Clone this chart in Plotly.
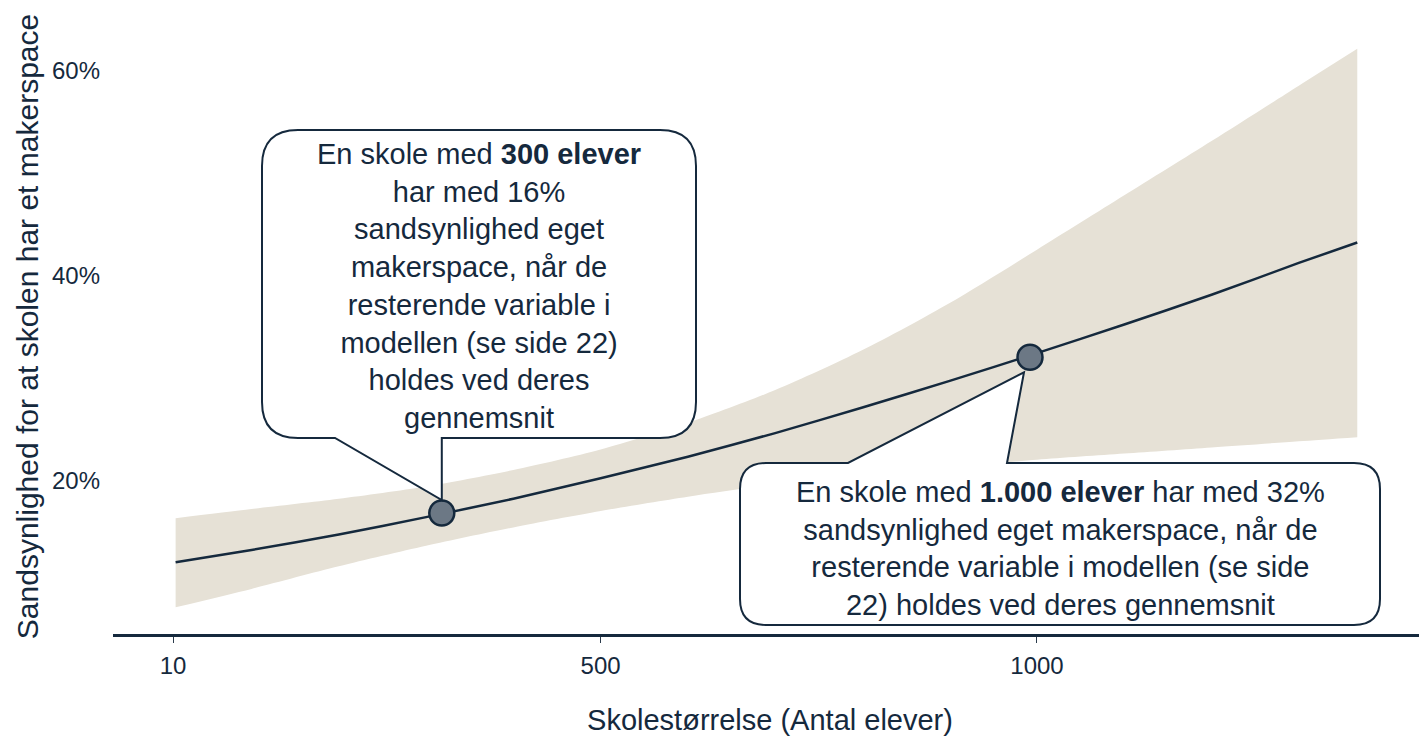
import plotly.graph_objects as go

# school size (number of pupils) and predicted probability with 95% band
school_size = [13, 100, 200, 300, 400, 500, 600, 700, 800, 900, 1000, 1100, 1200, 1300, 1367]
prob = [0.120, 0.132, 0.147, 0.164, 0.182, 0.202, 0.223, 0.246, 0.271, 0.297, 0.324, 0.352, 0.381, 0.412, 0.432]
upper = [0.163, 0.172, 0.182, 0.194, 0.210, 0.230, 0.256, 0.288, 0.327, 0.373, 0.425, 0.478, 0.531, 0.585, 0.621]
lower = [0.076, 0.094, 0.116, 0.136, 0.154, 0.170, 0.184, 0.196, 0.205, 0.213, 0.220, 0.226, 0.232, 0.238, 0.242]

# highlighted points
mark_x = [318, 992]
mark_y = [0.168, 0.320]

x_ticks = [10, 500, 1000]
y_ticks = [0.2, 0.4, 0.6]

NAVY = "#15293d"
BAND = "#e6e1d6"
FONT = "Liberation Sans, Arial, sans-serif"

# page body adds an 8px margin, so the figure is sized/offset for that
OFF = 8
W, H = 1427 - OFF, 736 - OFF
ML, MR, MT, MB = 113 - OFF, 0, 19 - OFF, 102
X_RANGE = [-58.75, 1446.9]
Y_RANGE = [0.05, 0.65]


def to_data(px, py):
    # window pixel -> data coords
    px, py = px - OFF, py - OFF
    x = X_RANGE[0] + (px - ML) / (W - ML - MR) * (X_RANGE[1] - X_RANGE[0])
    y = Y_RANGE[1] - (py - MT) / (H - MT - MB) * (Y_RANGE[1] - Y_RANGE[0])
    return x, y


def to_px(x, y):
    px = ML + (x - X_RANGE[0]) / (X_RANGE[1] - X_RANGE[0]) * (W - ML - MR)
    py = MT + (Y_RANGE[1] - y) / (Y_RANGE[1] - Y_RANGE[0]) * (H - MT - MB)
    return px + OFF, py + OFF


def bubble(x0, y0, x1, y1, r, tail_a, tail_b, tip, tail_side):
    """rounded box (window pixels) with a pointer, returned as a data-coord svg path"""
    pts = [("M", (x0 + r, y0))]
    if tail_side == "top":
        pts += [("L", (tail_a, y0)), ("L", tip), ("L", (tail_b, y0))]
    pts += [("L", (x1 - r, y0)), ("Q", (x1, y0), (x1, y0 + r)),
            ("L", (x1, y1 - r)), ("Q", (x1, y1), (x1 - r, y1))]
    if tail_side == "bottom":
        pts += [("L", (tail_b, y1)), ("L", tip), ("L", (tail_a, y1))]
    pts += [("L", (x0 + r, y1)), ("Q", (x0, y1), (x0, y1 - r)),
            ("L", (x0, y0 + r)), ("Q", (x0, y0), (x0 + r, y0))]
    out = []
    for p in pts:
        coords = []
        for c in p[1:]:
            dx, dy = to_data(*c)
            coords.append(f"{dx:.3f},{dy:.5f}")
        out.append(p[0] + " " + " ".join(coords))
    return " ".join(out) + " Z"


fig = go.Figure()

fig.add_trace(go.Scatter(x=school_size, y=lower, mode="lines",
                         line=dict(width=0, shape="spline", smoothing=0.8),
                         hoverinfo="skip", showlegend=False))
fig.add_trace(go.Scatter(x=school_size, y=upper, mode="lines",
                         line=dict(width=0, shape="spline", smoothing=0.8),
                         fill="tonexty", fillcolor=BAND, hoverinfo="skip", showlegend=False))
fig.add_trace(go.Scatter(x=school_size, y=prob, mode="lines",
                         line=dict(color=NAVY, width=2.5, shape="spline", smoothing=0.8),
                         showlegend=False))

# callout bubbles, pointing at the highlighted points
m1 = to_px(mark_x[0], mark_y[0])
m2 = to_px(mark_x[1], mark_y[1])
path1 = bubble(262, 130, 696, 438, 36, 335, m1[0], (m1[0], m1[1] - 13), "bottom")
path2 = bubble(740, 463, 1380, 625, 26, 848, 1007, (m2[0] - 6, m2[1] + 15), "top")
for p in (path1, path2):
    fig.add_shape(type="path", path=p, xref="x", yref="y",
                  line=dict(color=NAVY, width=2), fillcolor="white", layer="above")

fig.add_trace(go.Scatter(x=mark_x, y=mark_y, mode="markers",
                         marker=dict(size=25, color="#6c7885", line=dict(color=NAVY, width=2.5)),
                         showlegend=False))

t1x, t1y = to_data(479, 286)
t2x, t2y = to_data(1060, 548)
fig.add_annotation(x=t1x, y=t1y, xref="x", yref="y", showarrow=False, align="center",
                   text="En skole med <b>300 elever</b><br>har med 16%<br>sandsynlighed eget<br>"
                        "makerspace, når de<br>resterende variable i<br>modellen (se side 22)<br>"
                        "holdes ved deres<br>gennemsnit",
                   font=dict(size=29, color=NAVY, family=FONT))
fig.add_annotation(x=t2x, y=t2y, xref="x", yref="y", showarrow=False, align="center",
                   text="En skole med <b>1.000 elever</b> har med 32%<br>sandsynlighed eget makerspace, når de<br>"
                        "resterende variable i modellen (se side<br>22) holdes ved deres gennemsnit",
                   font=dict(size=29, color=NAVY, family=FONT))

fig.update_layout(
    width=W, height=H,
    margin=dict(l=ML, r=MR, t=MT, b=MB),
    paper_bgcolor="white",
    plot_bgcolor="white",
    font=dict(family=FONT, color=NAVY),
    showlegend=False,
    xaxis=dict(
        range=X_RANGE, tickvals=x_ticks, showgrid=False, zeroline=False,
        showline=True, linecolor=NAVY, linewidth=2.5,
        ticks="outside", ticklen=6, tickwidth=1, tickcolor="#2b3b4c",
        ticklabelstandoff=2,
        tickfont=dict(size=24, color=NAVY),
        title=dict(text="Skolestørrelse (Antal elever)", font=dict(size=29, color=NAVY), standoff=34),
        automargin=False,
    ),
    yaxis=dict(
        range=Y_RANGE, tickvals=y_ticks, tickformat=".0%", showgrid=False, zeroline=False,
        showline=False, ticks="", ticklabelstandoff=12,
        tickfont=dict(size=24, color=NAVY),
        title=dict(text="Sandsynlighed for at skolen har et makerspace",
                   font=dict(size=30, color=NAVY), standoff=4),
        automargin=False,
    ),
)

fig.write_html("out.html")
